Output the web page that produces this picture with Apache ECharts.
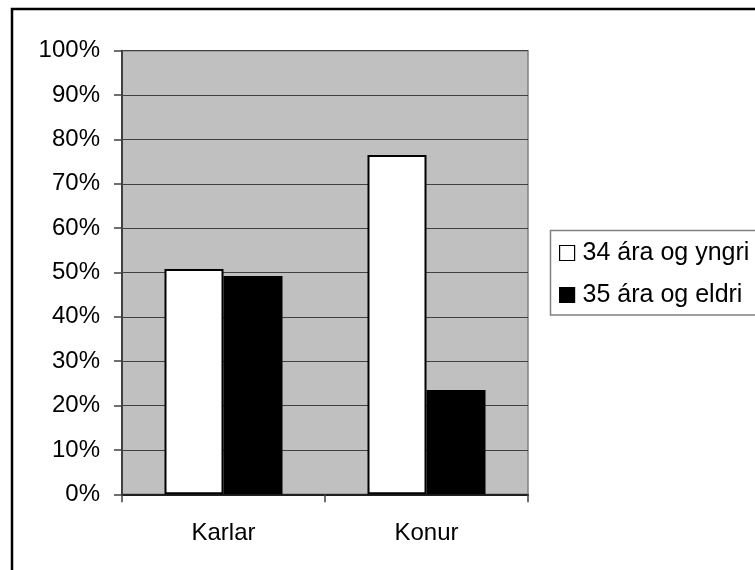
<!DOCTYPE html>
<html>
<head>
<meta charset="utf-8">
<script src="https://cdn.jsdelivr.net/npm/echarts@6/dist/echarts.min.js"></script>
<style>
  html, body { margin: 0; padding: 0; background: #ffffff; }
  #chart { width: 755px; height: 570px; }
</style>
</head>
<body>
<div id="chart"></div>
<script>
// Hlutfall eftir kyni og aldurshópi
const categories = ['Karlar', 'Konur'];
const seriesNames = ['34 ára og yngri', '35 ára og eldri'];
const youngerValues = [50.8, 76.5];
const olderValues = [49.2, 23.5];
const yTicks = { min: 0, max: 100, interval: 10 };

const FONT = '"Liberation Sans", Arial, sans-serif';

const chart = echarts.init(document.getElementById('chart'), null, { renderer: 'canvas' });

chart.setOption({
  animation: false,
  backgroundColor: '#ffffff',
  textStyle: { fontFamily: FONT },
  graphic: [
    {
      // outer chart frame
      type: 'rect',
      shape: { x: 12, y: 9, width: 800, height: 700 },
      style: { fill: 'none', stroke: '#000000', lineWidth: 2.5 },
      z: 0
    },
    {
      // legend frame
      type: 'rect',
      shape: { x: 550.5, y: 230.5, width: 300, height: 84.5 },
      style: { fill: '#ffffff', stroke: '#808080', lineWidth: 1.5 },
      z: 1
    }
  ],
  legend: {
    orient: 'vertical',
    left: 550,
    top: 231,
    padding: [8, 8, 6, 9],
    itemWidth: 15,
    itemHeight: 15,
    itemGap: 14,
    icon: 'rect',
    z: 5,
    textStyle: {
      fontFamily: FONT,
      fontSize: 25,
      lineHeight: 28,
      color: '#000000',
      padding: [0, 0, 0, 3]
    },
    data: seriesNames.map(function (n) {
      return { name: n, itemStyle: { borderColor: '#000000', borderWidth: 1.2 } };
    })
  },
  grid: {
    left: 122,
    right: 227,
    top: 50.7,
    bottom: 75.7,
    show: true,
    backgroundColor: '#c0c0c0',
    borderColor: '#808080',
    borderWidth: 1.5
  },
  xAxis: {
    type: 'category',
    data: categories,
    axisLine: { show: true, lineStyle: { color: '#202020', width: 2 } },
    axisTick: { show: true, length: 8, alignWithLabel: false, lineStyle: { color: '#404040', width: 1.5 } },
    axisLabel: { fontFamily: FONT, fontSize: 24, color: '#000000', margin: 27 },
    splitLine: { show: false }
  },
  yAxis: {
    type: 'value',
    min: yTicks.min,
    max: yTicks.max,
    interval: yTicks.interval,
    axisLine: { show: true, lineStyle: { color: '#404040', width: 2 } },
    axisTick: { show: true, length: 8, lineStyle: { color: '#404040', width: 1.5 } },
    axisLabel: {
      fontFamily: FONT,
      fontSize: 24,
      color: '#000000',
      margin: 22,
      formatter: '{value}%'
    },
    splitLine: { show: true, lineStyle: { color: '#404040', width: 1 } }
  },
  series: [
    {
      name: seriesNames[0],
      type: 'bar',
      data: youngerValues,
      barWidth: 59,
      barGap: '0%',
      itemStyle: { color: '#ffffff', borderColor: '#000000', borderWidth: 2 }
    },
    {
      name: seriesNames[1],
      type: 'bar',
      data: olderValues,
      barWidth: 59,
      barGap: '0%',
      itemStyle: { color: '#000000', borderColor: '#000000', borderWidth: 2 }
    }
  ]
});
</script>
</body>
</html>
